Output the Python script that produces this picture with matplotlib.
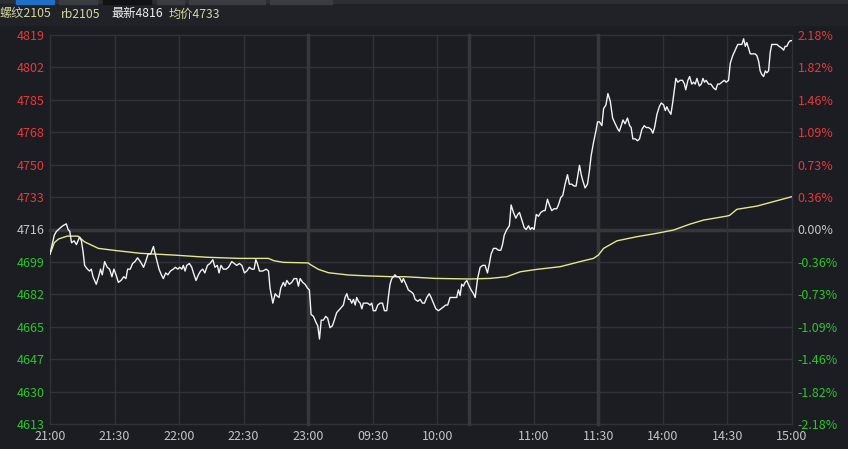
import matplotlib
matplotlib.use("Agg")
import matplotlib.pyplot as plt
import numpy as np
from matplotlib.patches import Rectangle

plt.rcParams["font.family"] = ["Noto Sans CJK SC", "DejaVu Sans"]

# intraday rb2105, x = trading minute since 21:00 (night 120 + day 225)
minute = [
    0, 2, 3, 4.9, 6, 7.6, 8.4, 9.2, 10, 11.2,
    12.3, 13, 13.8, 14.6, 15.4, 16.1, 17.4, 18.4, 19.2, 20,
    21.5, 22.6, 23.5, 24.3, 25.4, 26.6, 27.7, 28.8, 29.7, 30.7,
    31.8, 33, 34.3, 35.3, 36.1, 37.3, 38.4, 39.5, 40.7, 42,
    43.5, 44.5, 45.6, 46.8, 48.1, 48.7, 49.6, 50.7, 51.8, 52.7,
    53.8, 54.8, 56, 57.3, 58.3, 59.4, 60.3, 61.3, 62, 62.8,
    63.6, 64.8, 65.9, 66.7, 67.9, 69, 70, 71, 72, 73.2,
    74.4, 75.7, 76.7, 77.8, 78.6, 79.5, 80.6, 81.9, 83, 84.5,
    85.7, 86.8, 88.1, 89.2, 90.4, 91.5, 92.7, 93.8, 94.9, 95.7,
    96.4, 97.4, 98.9, 100.5, 101.6, 102.3, 103.6, 104.7, 105.4, 106.5,
    107.3, 108.5, 109.3, 110.1, 111.3, 112.4, 113.5, 114.7, 115.5, 116.3,
    117.5, 118.6, 119.7, 120.6, 121.4, 122.5, 123.6, 124.5, 125.3, 126.1,
    127.1, 128.2, 129.1, 130.2, 131.3, 132.2, 133.3, 134.9, 136.4, 137.2,
    138, 138.8, 139.5, 140.3, 141.1, 141.9, 142.6, 143.4, 144.2, 145,
    145.7, 146.8, 147.7, 148.8, 149.6, 150.3, 151.4, 152.4, 153.5, 154.6,
    155.5, 156.6, 157.3, 158.1, 158.9, 159.7, 160.4, 161.2, 162, 162.8,
    163.6, 164.3, 165.1, 165.9, 166.6, 167.9, 168.9, 169.8, 171, 172.1,
    173.2, 174.1, 175.2, 176.3, 177.2, 178.3, 179.4, 180.6, 181.8, 182.9,
    184, 184.9, 186, 186.8, 188, 189.1, 189.9, 190.7, 191.4, 192.2,
    193, 193.8, 194.5, 195.8, 196.9, 197.7, 198.8, 200, 201.2, 202.3,
    203.4, 204.3, 205.1, 206.2, 207.4, 208.5, 209.6, 210.4, 211.2, 212.4,
    213.6, 214.4, 215.5, 216.6, 217.5, 218.3, 219.4, 220.5, 221.4, 222.5,
    223.3, 224.1, 225.1, 226.1, 227.1, 228.2, 229.4, 230.2, 231.3, 232.2,
    233.3, 234.4, 235.6, 236.4, 237.5, 238.4, 239.5, 240.6, 241.5, 242.6,
    243.7, 244.6, 246.2, 247, 247.7, 248.8, 249.9, 250.8, 251.6, 252.7,
    253.8, 254.6, 255.5, 256.6, 257.4, 258.5, 259.4, 260.5, 261.6, 262.8,
    264.1, 264.7, 265.6, 266.4, 267.4, 268.5, 269.5, 270.2, 271, 272.1,
    273.2, 274.1, 275.2, 276.3, 277.2, 278.3, 279.5, 280.3, 281.1, 282.2,
    283.3, 284.2, 285.3, 286.1, 286.8, 287.6, 288.7, 289.5, 290.2, 291,
    291.9, 293, 294.1, 295, 295.6, 296.6, 297.4, 298.4, 299.2, 300,
    300.8, 301.9, 302.8, 303.6, 304.3, 305.1, 306.2, 307.3, 308.5, 309.6,
    310.4, 311.3, 312.4, 313.5, 314.4, 315.5, 316.3, 317.4, 318.6, 319.8,
    320.9, 321.7, 322.5, 323.3, 324, 324.8, 325.6, 326.7, 327.9, 328.7,
    329.5, 330.2, 331, 331.8, 332.6, 333.3, 334.1, 334.9, 335.6, 336.9,
    338, 339, 340.3, 341.1, 341.8, 342.6, 343.4, 344.2, 345,
]
price = [
    4703, 4713, 4715, 4717, 4718, 4719, 4716, 4715, 4709, 4710,
    4708, 4710, 4712, 4710, 4704, 4697, 4695, 4694, 4695, 4691,
    4687, 4691, 4695, 4692, 4699, 4696, 4695, 4691, 4695, 4692,
    4688, 4689, 4691, 4690, 4695, 4695, 4698, 4699, 4701, 4699,
    4696, 4699, 4703, 4703, 4707, 4704, 4700, 4695, 4692, 4690,
    4693, 4692, 4694, 4695, 4696, 4695, 4696, 4695, 4697, 4694,
    4697, 4698, 4696, 4693, 4689, 4692, 4694, 4695, 4693, 4697,
    4698, 4700, 4696, 4697, 4693, 4697, 4695, 4695, 4696, 4699,
    4698, 4697, 4698, 4697, 4693, 4694, 4696, 4695, 4695, 4700,
    4698, 4694, 4694, 4695, 4694, 4685, 4677, 4682, 4681, 4680,
    4685, 4688, 4686, 4689, 4687, 4688, 4690, 4690, 4686, 4690,
    4688, 4687, 4685, 4684, 4671, 4670, 4667, 4665, 4658, 4668,
    4668, 4670, 4669, 4664, 4665, 4668, 4672, 4674, 4676, 4680,
    4682, 4679, 4679, 4677, 4679, 4676, 4680, 4678, 4677, 4674,
    4677, 4677, 4677, 4676, 4677, 4673, 4673, 4676, 4677, 4677,
    4673, 4673, 4680, 4687, 4690, 4691, 4692, 4691, 4691, 4690,
    4688, 4690, 4688, 4686, 4684, 4683, 4682, 4679, 4678, 4679,
    4677, 4677, 4680, 4682, 4680, 4677, 4674, 4673, 4674, 4675,
    4676, 4676, 4680, 4680, 4680, 4680, 4684, 4681, 4687, 4686,
    4688, 4689, 4687, 4684, 4682, 4680, 4690, 4696, 4697, 4697,
    4693, 4698, 4703, 4706, 4706, 4705, 4705, 4708, 4713, 4716,
    4718, 4729, 4725, 4722, 4724, 4725, 4721, 4717, 4716, 4718,
    4716, 4717, 4716, 4724, 4723, 4725, 4726, 4726, 4732, 4729,
    4726, 4727, 4727, 4729, 4733, 4734, 4740, 4745, 4740, 4740,
    4739, 4739, 4750, 4745, 4742, 4738, 4740, 4747, 4755, 4762,
    4768, 4773, 4773, 4771, 4780, 4782, 4788, 4784, 4775, 4772,
    4769, 4768, 4771, 4774, 4772, 4775, 4771, 4770, 4764, 4764,
    4763, 4764, 4769, 4771, 4770, 4770, 4769, 4767, 4770, 4777,
    4781, 4783, 4782, 4779, 4781, 4779, 4777, 4783, 4789, 4796,
    4794, 4795, 4795, 4793, 4790, 4795, 4797, 4793, 4794, 4793,
    4796, 4792, 4793, 4796, 4794, 4795, 4793, 4793, 4791, 4790,
    4793, 4793, 4794, 4795, 4794, 4795, 4804, 4808, 4811, 4814,
    4814, 4814, 4817, 4813, 4815, 4812, 4809, 4809, 4809, 4808,
    4805, 4800, 4798, 4797, 4800, 4799, 4800, 4810, 4814, 4814,
    4814, 4813, 4812, 4811, 4813, 4813, 4815, 4816, 4816,
]

avg_minute = [
    0, 2, 4, 8, 13, 16, 22.5, 31, 42, 57, 73, 88, 101.6, 104, 108.5,
    120, 121.4, 124.8, 129.5, 138.8, 148, 159, 165, 179, 195,
    204.7, 212.4, 218.6, 226.4, 237.2, 246.5, 252.7, 255, 257.4, 263.6,
    272.9, 282.2, 289.9, 297.7, 303.9, 314.7, 316, 319.4, 328.7, 345,
]
avg_price = [
    4703, 4709, 4711, 4712.5, 4712.5, 4709.5, 4706, 4704.8, 4703.4, 4702.5,
    4701.3, 4700.7, 4700.7, 4699.5, 4698.6, 4698.3, 4697.2, 4694.9, 4693.1,
    4691.9, 4691.4, 4691, 4691, 4690.1, 4689.8, 4690.1, 4691, 4693.6,
    4694.9, 4696.3, 4699, 4700.7, 4702.5, 4706, 4710, 4712.2, 4714, 4715.7,
    4718.9, 4721, 4723.1, 4723.5, 4726.7, 4728.4, 4733.4,
]

prev_close = 4716
price_low, price_high = 4613, 4819
price_labels = ["4613", "4630", "4647", "4665", "4682", "4699", "4716",
                "4733", "4750", "4768", "4785", "4802", "4819"]
pct_labels = ["-2.18%", "-1.82%", "-1.46%", "-1.09%", "-0.73%", "-0.36%", "0.00%",
              "0.36%", "0.73%", "1.09%", "1.46%", "1.82%", "2.18%"]

time_minutes = [0, 30, 60, 90, 120, 150, 180, 225, 255, 285, 315, 345]
time_labels = ["21:00", "21:30", "22:00", "22:30", "23:00", "09:30", "10:00",
               "11:00", "11:30", "14:00", "14:30", "15:00"]
session_breaks = [120, 195, 255]

header = [("螺纹2105", "#d6d6a0"), ("rb2105", "#d6d6a0"),
          ("最新4816", "#f0f0f0"), ("均价4733", "#d6d6a0")]

assert len(minute) == len(price)

BG = "#1b1d22"
GRID = "#303237"
THICK = "#35373b"
RED = "#e8383a"
GREEN = "#2cc52c"
NEUTRAL = "#c4c4c4"

W, H = 848, 449
fig = plt.figure(figsize=(W / 100, H / 100), dpi=100, facecolor=BG)

# header strip + tabs
fig.patches.append(Rectangle((0, 1 - 4 / H), 1, 4 / H, transform=fig.transFigure,
                             color="#2c2e33", zorder=0))
for x0, x1, c in [(16, 54, "#1f6fc6"), (59, 97, "#3a3c42"), (103, 151, "#111214"),
                  (157, 184, "#3a3c42"), (189, 265, "#3a3c42"), (270, 332, "#3a3c42")]:
    fig.patches.append(Rectangle((x0 / W, 1 - 4 / H), (x1 - x0) / W, 4 / H,
                                 transform=fig.transFigure, color=c, zorder=1))
fig.patches.append(Rectangle((0, 1 - 25 / H), 1, 21 / H, transform=fig.transFigure,
                             color="#202227", zorder=0))

xpos = [0, 61, 111, 169]
for (txt, col), xp in zip(header, xpos):
    fig.text(xp / W, 1 - 14 / H, txt, color=col, fontsize=8.8, va="center", ha="left")

ax = fig.add_axes([50 / W, 1 - 424 / H, 742 / W, 389 / H])
ax.set_facecolor(BG)
ax.set_xlim(0, 345)
ax.set_ylim(price_low, price_high)
for s in ax.spines.values():
    s.set_visible(False)

levels = np.linspace(price_low, price_high, len(price_labels))
for lv in levels:
    if np.isclose(lv, prev_close):
        ax.axhline(lv, color=THICK, lw=2.5, zorder=0, clip_on=False)
    else:
        ax.axhline(lv, color=GRID, lw=1, zorder=0, clip_on=False)
for m in sorted(set(time_minutes + session_breaks)):
    if m in session_breaks:
        ax.axvline(m, color=THICK, lw=2.5, zorder=0, clip_on=False)
    else:
        ax.axvline(m, color=GRID, lw=1, zorder=0, clip_on=False)

ax.plot(avg_minute, avg_price, color="#e6e68c", lw=1.0, zorder=2)
ax.plot(minute, price, color="#f2f2f2", lw=1.0, zorder=3)


def level_color(v):
    if np.isclose(v, prev_close):
        return NEUTRAL
    return RED if v > prev_close else GREEN


ax.set_yticks(levels, price_labels, fontsize=9)
for lbl, lv in zip(ax.get_yticklabels(), levels):
    lbl.set_color(level_color(lv))
ax.tick_params(axis="y", length=0, pad=4)

ax.set_xticks(time_minutes, time_labels, fontsize=9, color=NEUTRAL)
ax.tick_params(axis="x", length=0, pad=4)

ax2 = ax.twinx()
ax2.set_ylim(price_low, price_high)
for s in ax2.spines.values():
    s.set_visible(False)
ax2.set_yticks(levels, pct_labels, fontsize=9)
for lbl, lv in zip(ax2.get_yticklabels(), levels):
    lbl.set_color(level_color(lv))
ax2.tick_params(axis="y", length=0, pad=4)

fig.savefig("out.png", dpi=100, facecolor=fig.get_facecolor())
